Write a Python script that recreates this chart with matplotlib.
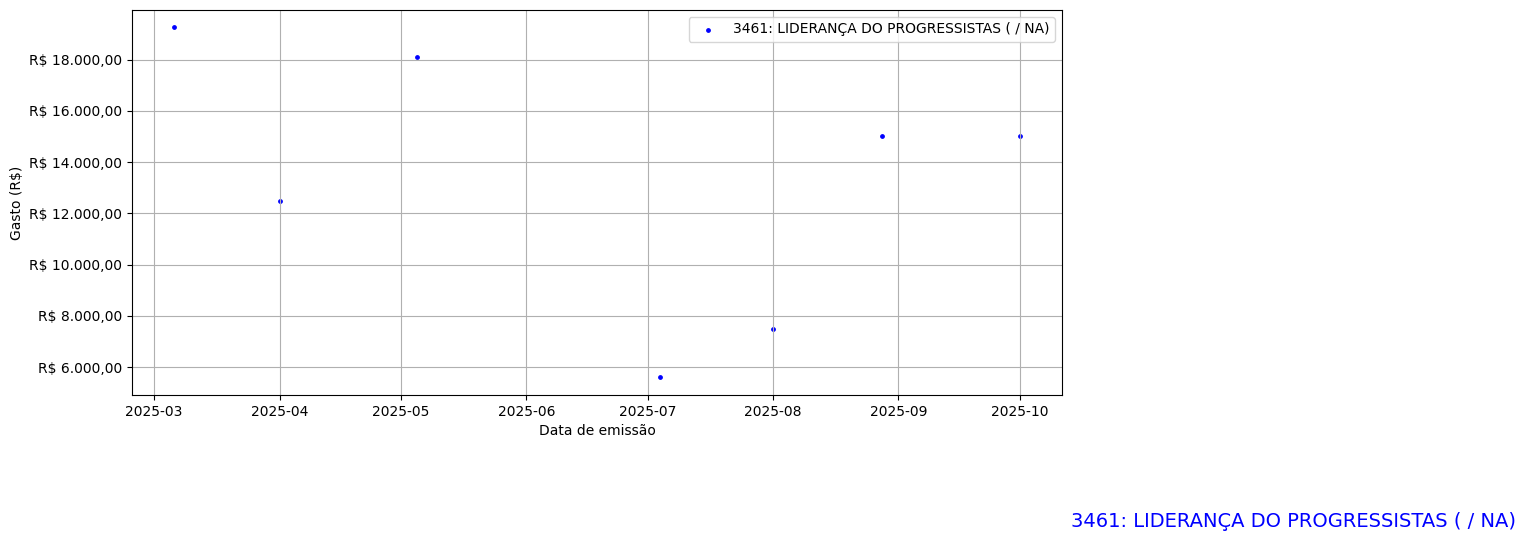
import matplotlib

matplotlib.use("Agg")
import matplotlib.pyplot as plt
import matplotlib.dates as mdates
import matplotlib.ticker as mticker
import pandas as pd

LABEL = "3461: LIDERANÇA DO PROGRESSISTAS ( / NA)"

datas = [
    "2025-03-06",
    "2025-04-01",
    "2025-05-05",
    "2025-07-04",
    "2025-08-01",
    "2025-08-28",
    "2025-10-01",
]
gastos = [19250, 12500, 18100, 5600, 7500, 15000, 15000]


def _brl(v: float, _pos=None) -> str:
    s = f"{v:,.2f}"
    s = s.replace(",", "_").replace(".", ",").replace("_", ".")
    return f"R$ {s}"


fig = plt.figure(figsize=(15.25, 5.41), dpi=100)
ax = fig.add_axes([0.0866, 0.270, 0.6098, 0.7116])

x = pd.to_datetime(datas)
ax.scatter(x, gastos, s=6, color="blue", label=LABEL)

ax.xaxis.set_major_locator(mdates.MonthLocator())
ax.xaxis.set_major_formatter(mdates.DateFormatter("%Y-%m"))
ax.yaxis.set_major_locator(mticker.MultipleLocator(2000))
ax.yaxis.set_major_formatter(mticker.FuncFormatter(_brl))

ax.set_xlabel("Data de emissão")
ax.set_ylabel("Gasto (R$)")
ax.grid(True)
ax.legend(loc="upper right")

fig.text(0.9941, 0.026, LABEL, color="blue", fontsize=14, ha="right", va="baseline")

fig.savefig("out.png", dpi=100)
plt.close(fig)
